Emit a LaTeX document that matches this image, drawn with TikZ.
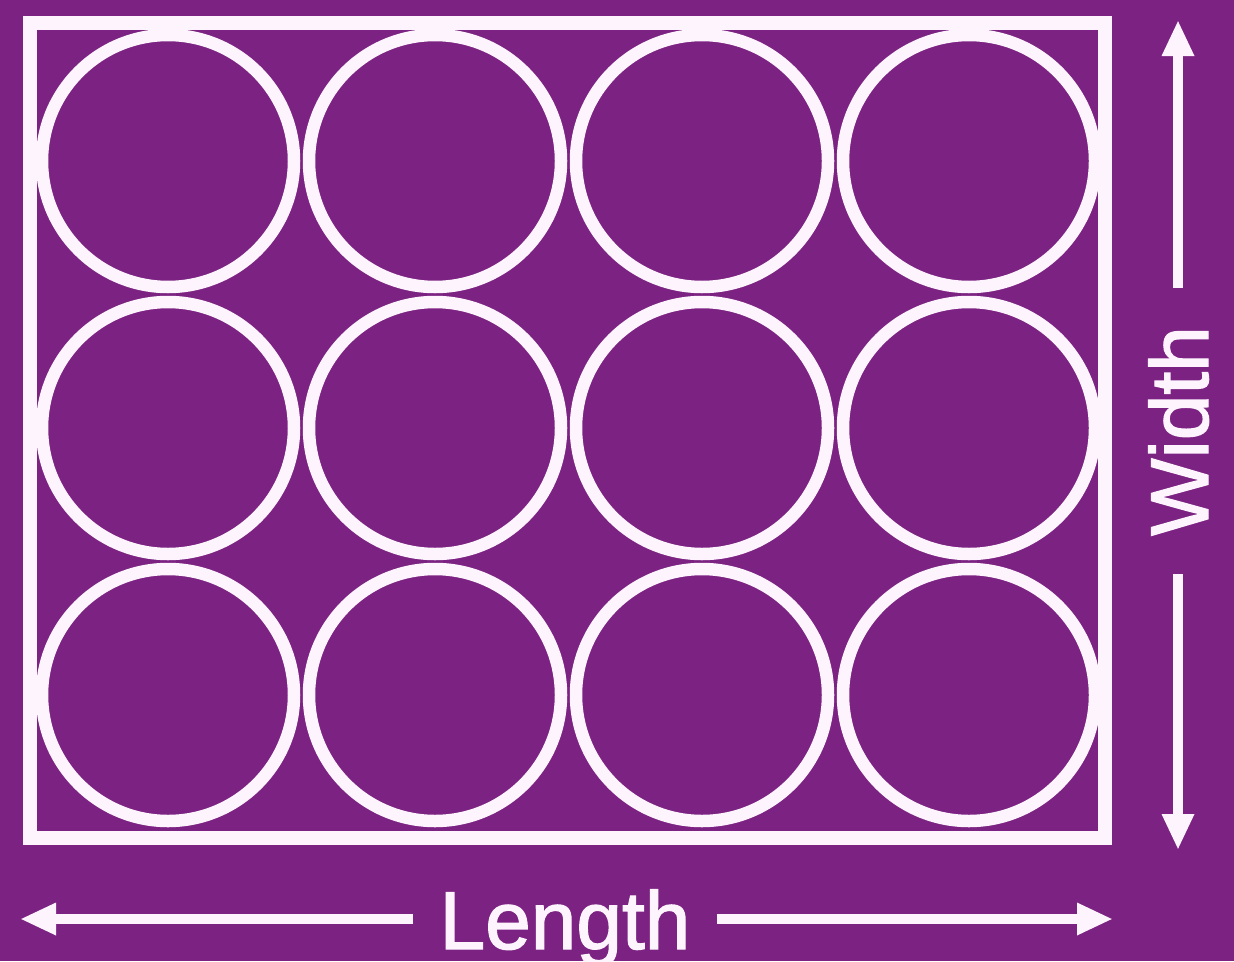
\documentclass[tikz,border=0pt]{standalone}
\usepackage{fontspec}
\setmainfont{Liberation Sans}
\newfontfamily\dimfont[FakeBold=1.6]{Liberation Sans}
\usetikzlibrary{arrows.meta}
\definecolor{bgpurple}{RGB}{124,34,130}
\definecolor{chalk}{RGB}{253,244,253}
\tikzset{
  frameline/.style={draw=chalk, line width=13.5pt},
  ringline/.style={draw=chalk, line width=12.5pt},
  dimarrow/.style={draw=chalk, line width=10pt, -{Triangle[length=36pt,width=30pt]}},
  dimlabel/.style={text=chalk, font=\dimfont\fontsize{82}{90}\selectfont, text height=60pt, text depth=0pt, inner ysep=0pt}
}
\begin{document}
\begin{tikzpicture}[x=1pt,y=-1pt]
  % background
  \fill[bgpurple] (0,0) rectangle (1234,961);
  \useasboundingbox (0,0) rectangle (1234,961);

  % frame
  \draw[frameline] (30,23) rectangle (1105,838);

  % circles
  \foreach \i in {0,1,2,3}{
    \foreach \j in {0,1,2}{
      \draw[ringline] ({168+267*\i},{161+267*\j}) circle (126);
    }
  }

  % width dimension
  \coordinate (wtop) at (1178,20);
  \coordinate (wbot) at (1178,850);
  \node[dimlabel, rotate=90, inner xsep=38pt] (wlabel) at (1178,431) {Width};
  \draw[dimarrow] (wlabel) -- (wtop);
  \draw[dimarrow] (wlabel) -- (wbot);

  % length dimension
  \coordinate (lleft) at (20,919);
  \coordinate (lright) at (1113,919);
  \node[dimlabel, inner xsep=26pt] (llabel) at (565,919) {Length};
  \draw[dimarrow] (llabel) -- (lleft);
  \draw[dimarrow] (llabel) -- (lright);
\end{tikzpicture}
\end{document}
